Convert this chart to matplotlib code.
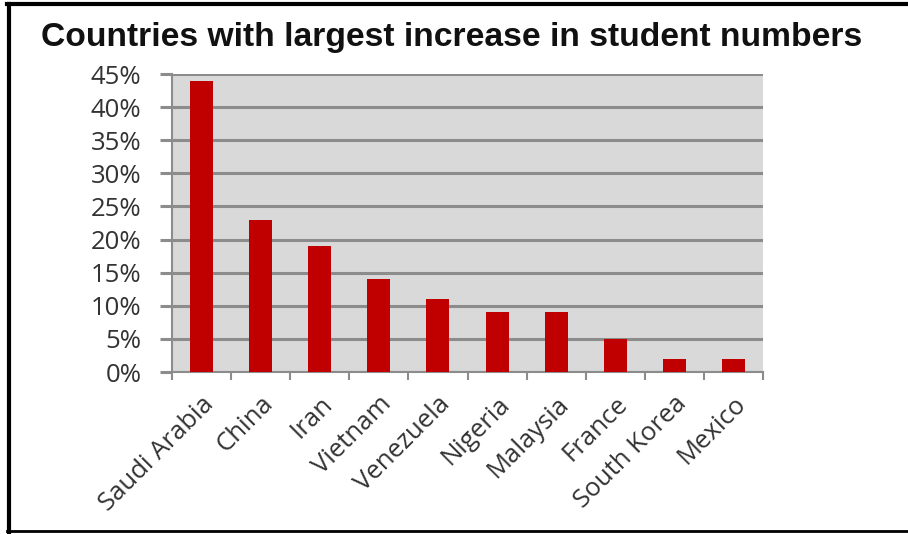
import numpy as np
import matplotlib.pyplot as plt
from matplotlib.lines import Line2D

countries = ['Saudi Arabia', 'China', 'Iran', 'Vietnam', 'Venezuela',
             'Nigeria', 'Malaysia', 'France', 'South Korea', 'Mexico']
increase = [44, 23, 19, 14, 11, 9, 9, 5, 2, 2]
yticks = [0, 5, 10, 15, 20, 25, 30, 35, 40, 45]

fig = plt.figure(figsize=(9.08, 5.34), dpi=100)
ax = fig.add_axes([172/908, 1 - 372/534, (763-172)/908, (372-74)/534])

x = np.arange(len(countries))
ax.set_facecolor('#d9d9d9')
ax.bar(x, increase, width=0.39, color='#c00000', zorder=3)

ax.set_xlim(-0.5, len(countries) - 0.5)
ax.set_ylim(0, 45)
ax.set_yticks(yticks)
ax.set_yticklabels([f'{v}%' for v in yticks])
ax.yaxis.grid(True, color='#8c8c8c', linewidth=2.2, zorder=1)
ax.set_axisbelow(True)

# category labels between boundary ticks
ax.set_xticks(x)
ax.set_xticklabels(countries, rotation=45, ha='right', rotation_mode='anchor')
ax.set_xticks(np.arange(len(countries) + 1) - 0.5, minor=True)
ax.tick_params(axis='x', which='major', length=0, pad=14)
ax.tick_params(axis='x', which='minor', length=6, width=1.5, color='#8c8c8c')
ax.tick_params(axis='y', length=9, width=2.2, color='#8c8c8c', pad=13)
for lab in ax.get_xticklabels() + ax.get_yticklabels():
    lab.set_fontfamily('Open Sans')
    lab.set_fontsize(18.5)
    lab.set_color('#333333')

for s in ['top', 'right']:
    ax.spines[s].set_visible(False)
for s in ['left', 'bottom']:
    ax.spines[s].set_color('#8c8c8c')
    ax.spines[s].set_linewidth(1.5)

fig.text(452/908, 1 - 37/534, 'Countries with largest increase in student numbers',
         ha='center', va='center', fontsize=24.2, fontweight='bold',
         family='Liberation Sans', color='#111111')

# outer frame (left, top, bottom)
fig.add_artist(Line2D([8.5/908, 8.5/908], [0, 1 - 4/534], color='black', lw=3, transform=fig.transFigure))
fig.add_artist(Line2D([7/908, 1], [1 - 4/534, 1 - 4/534], color='black', lw=3, transform=fig.transFigure))
fig.add_artist(Line2D([7/908, 1], [3/534, 3/534], color='black', lw=2, transform=fig.transFigure))

fig.savefig('out.png', dpi=100)
